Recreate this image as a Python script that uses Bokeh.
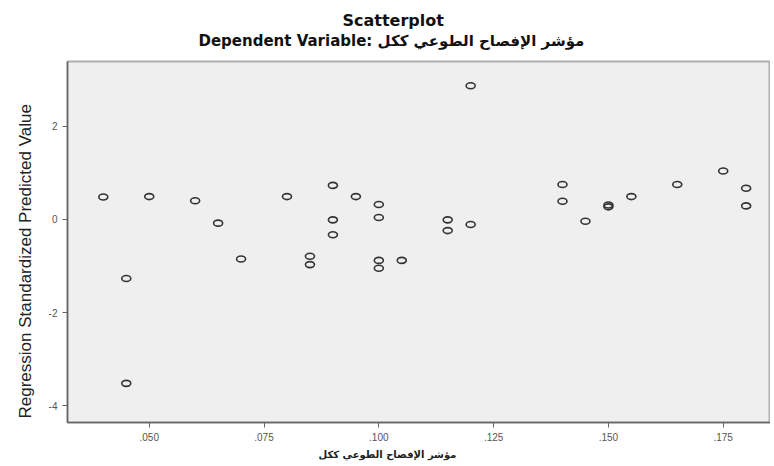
from bokeh.plotting import figure
from bokeh.models import Range1d, FixedTicker, CustomJSTickFormatter, Title
from bokeh.embed import file_html
from bokeh.resources import INLINE

# Data
x_vals = [0.040, 0.045, 0.045, 0.050, 0.060, 0.065, 0.070, 0.080, 0.085, 0.085,
          0.090, 0.090, 0.090, 0.095, 0.100, 0.100, 0.100, 0.100, 0.105, 0.115,
          0.115, 0.120, 0.120, 0.140, 0.140, 0.145, 0.150, 0.150, 0.155, 0.165,
          0.175, 0.180, 0.180]
y_vals = [0.48, -1.27, -3.52, 0.49, 0.40, -0.08, -0.85, 0.49, -0.79, -0.97,
          0.73, -0.01, -0.33, 0.49, 0.32, 0.04, -0.88, -1.05, -0.88, -0.01,
          -0.24, 2.87, -0.11, 0.75, 0.39, -0.04, 0.31, 0.27, 0.49, 0.75,
          1.04, 0.67, 0.29]
x_ticks = [0.050, 0.075, 0.100, 0.125, 0.150, 0.175]
y_ticks = [-4, -2, 0, 2]

title_text = "Scatterplot"
subtitle_text = "Dependent Variable: مؤشر الإفصاح الطوعي ككل"
x_label = "مؤشر الإفصاح الطوعي ككل"
y_label = "Regression Standardized Predicted Value"

W, H = 770, 462
p = figure(width=W, height=H, output_backend="svg", toolbar_location=None,
           x_range=Range1d(0.0322, 0.1853), y_range=Range1d(-4.36, 3.39),
           min_border_left=67, min_border_right=0, min_border_top=61, min_border_bottom=40)

p.background_fill_color = "#efefef"
p.border_fill_color = "white"
p.outline_line_color = "#b0b0b0"
p.outline_line_width = 2
p.grid.visible = False

p.ellipse(x_vals, y_vals, width=9, height=6, width_units="screen", height_units="screen",
          fill_color=None, line_color="#333333", line_width=1.6)

p.xaxis.ticker = FixedTicker(ticks=x_ticks)
p.xaxis.formatter = CustomJSTickFormatter(code="return tick.toFixed(3).replace(/^0/, '')")
p.yaxis.ticker = FixedTicker(ticks=y_ticks)
p.yaxis.formatter = CustomJSTickFormatter(code="return tick.toFixed(0)")
for ax in (p.xaxis, p.yaxis):
    ax.major_tick_out = 5
    ax.major_tick_in = 0
    ax.minor_tick_out = 0
    ax.minor_tick_in = 0
    ax.axis_line_color = "#666666"
    ax.axis_line_width = 1.5
    ax.major_tick_line_color = "#666666"
    ax.major_label_text_font = "Liberation Sans"
    ax.major_label_text_font_size = "10px"
    ax.major_label_text_color = "#555555"

# spacer between frame top and subtitle
spacer = Title(text=" ", align="left", standoff=4, text_font_size="6px",
               text_line_height=1.0)
sub = Title(text=subtitle_text, align="left", offset=131, standoff=0,
            text_font="DejaVu Sans", text_font_size="15px", text_font_style="bold",
            text_color="#111111", text_line_height=1.0)
main = Title(text=title_text, align="left", offset=275, standoff=0,
             text_font="DejaVu Sans", text_font_size="16px", text_font_style="bold",
             text_color="#111111", text_line_height=0.9)
p.add_layout(spacer, "above")
p.add_layout(sub, "above")
p.add_layout(main, "above")

xl = Title(text=x_label, align="left", offset=251, standoff=6,
           text_font="DejaVu Sans", text_font_size="10px", text_font_style="bold",
           text_color="#222222", text_line_height=1.0)
p.add_layout(xl, "below")

yl = Title(text=y_label, align="left", offset=4, standoff=21,
           text_font="Liberation Sans", text_font_size="17px", text_font_style="normal",
           text_color="#222222", text_line_height=1.0)
p.add_layout(yl, "left")

open("out.html", "w").write(file_html(p, INLINE))
